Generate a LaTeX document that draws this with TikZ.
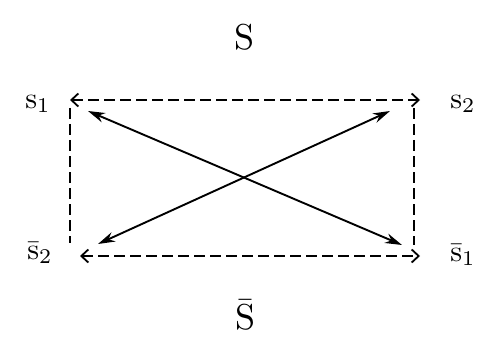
\documentclass[tikz,border=0pt]{standalone}
\usetikzlibrary{arrows.meta}
\begin{document}
\begin{tikzpicture}[x=1pt,y=-1pt,
  lab/.style={inner sep=0pt,scale=3},
  big/.style={inner sep=0pt,scale=3.6},
  edge/.style={dashed,dash pattern=on 11pt off 5pt,line width=1.8pt,{Straight Barb[length=7pt,width=13pt]}-{Straight Barb[length=7pt,width=13pt]}},
  side/.style={dashed,dash pattern=on 11pt off 5pt,line width=2.2pt},
  diag/.style={line width=1.9pt,{Stealth[length=17pt,width=10pt]}-{Stealth[length=17pt,width=10pt]}}]
\useasboundingbox (0,0) rectangle (479,342);
\node[big] (S) at (245,37) {S};
\node[big] (Sb) at (245,315) {$\bar{\mathrm{S}}$};
\node[lab] (l1) at (38,104) {$\mathrm{s}_1$};
\node[lab] (l2) at (463,104) {$\mathrm{s}_2$};
\node[lab] (l3) at (40,253) {$\bar{\mathrm{s}}_2$};
\node[lab] (l4) at (463,255) {$\bar{\mathrm{s}}_1$};
\coordinate (tl) at (70,100);
\coordinate (tr) at (420,100);
\coordinate (bl) at (80,256);
\coordinate (br) at (420,256);
\coordinate (lt) at (70,108);
\coordinate (lb) at (70,243);
\coordinate (rt) at (414,108);
\coordinate (rb) at (414,245);
\coordinate (d1a) at (88,111);
\coordinate (d1b) at (402,245);
\coordinate (d2a) at (98,244);
\coordinate (d2b) at (390,111);
\draw[edge] (tl) -- (tr);
\draw[edge] (bl) -- (br);
\draw[side] (lt) -- (lb);
\draw[side] (rt) -- (rb);
\draw[diag] (d1a) -- (d1b);
\draw[diag] (d2a) -- (d2b);
\end{tikzpicture}
\end{document}
